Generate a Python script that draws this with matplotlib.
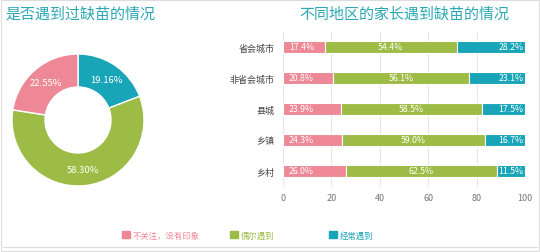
import matplotlib
matplotlib.use("Agg")
import matplotlib.pyplot as plt
from matplotlib.patches import Patch, Rectangle
import numpy as np

plt.rcParams["font.family"] = ["Noto Sans CJK SC", "DejaVu Sans"]

# donut data (clockwise from top)
pie_labels = ["经常遇到", "偶尔遇到", "不关注，没有印象"]
pie_values = [19.16, 58.30, 22.55]

# stacked bar data
regions = ["省会城市", "非省会城市", "县城", "乡镇", "乡村"]
not_care = [17.4, 20.8, 23.9, 24.3, 26.0]
sometimes = [54.4, 56.1, 58.5, 59.0, 62.5]
often = [28.2, 23.1, 17.5, 16.7, 11.5]
legend_labels = ["不关注，没有印象", "偶尔遇到", "经常遇到"]

PINK = "#EE8896"
GREEN = "#9DBC45"
TEAL = "#18A5B7"
TITLE = "#2AA8B4"

W, H = 540, 253
fig = plt.figure(figsize=(W / 100, H / 100), dpi=100)
fig.patches.append(Rectangle((0.002, 0.004), 0.996, 0.992, transform=fig.transFigure,
                             fill=False, edgecolor="#DDDDDD", linewidth=0.8))

fig.text(5 / W, 1 - 15 / H, "是否遇到过缺苗的情况", color=TITLE, fontsize=10.8,
         ha="left", va="center")
fig.text(404 / W, 1 - 15 / H, "不同地区的家长遇到缺苗的情况", color=TITLE, fontsize=10.8,
         ha="center", va="center")

# donut
cx, cy, r = 78, 121, 66
ax1 = fig.add_axes([(cx - r) / W, (H - cy - r) / H, 2 * r / W, 2 * r / H])
wedges, _, autotexts = ax1.pie(
    pie_values, colors=[TEAL, GREEN, PINK], startangle=90, counterclock=False,
    radius=1, autopct=lambda p: "", pctdistance=0.75,
    wedgeprops=dict(width=0.5, edgecolor="white", linewidth=1),
)
for t, v in zip(autotexts, pie_values):
    t.set_text(f"{v:.2f}%")
    t.set_color("white")
    t.set_fontsize(6.8)
ax1.set_xlim(-1, 1)
ax1.set_ylim(-1, 1)

# stacked bars
ax2 = fig.add_axes([283 / W, (H - 187.5) / H, 242 / W, 155 / H])
y = np.arange(len(regions))
h = 0.38
ax2.barh(y, not_care, height=h, color=PINK, edgecolor="white", linewidth=0.8)
ax2.barh(y, sometimes, left=not_care, height=h, color=GREEN, edgecolor="white", linewidth=0.8)
left3 = np.array(not_care) + np.array(sometimes)
ax2.barh(y, often, left=left3, height=h, color=TEAL, edgecolor="white", linewidth=0.8)

for i in range(len(regions)):
    ax2.text(2.5, y[i], f"{not_care[i]:.1f}%", color="white", fontsize=6.3,
             ha="left", va="center")
    ax2.text(not_care[i] + sometimes[i] / 2, y[i], f"{sometimes[i]:.1f}%", color="white",
             fontsize=6.3, ha="center", va="center")
    ax2.text(99.3, y[i], f"{often[i]:.1f}%", color="white", fontsize=6.3,
             ha="right", va="center")

ax2.set_xlim(0, 100)
ax2.set_ylim(len(regions) - 0.5, -0.5)
ax2.set_yticks(y)
ax2.set_yticklabels(regions, fontsize=6.5, color="#444444")
ax2.set_xticks([0, 20, 40, 60, 80, 100])
ax2.tick_params(axis="x", labelsize=6.5, labelcolor="#777777", length=0, pad=5)
ax2.tick_params(axis="y", length=0, pad=6)
ax2.grid(axis="x", color="#E6E6E6", linewidth=0.7)
ax2.set_axisbelow(True)
for s in ax2.spines.values():
    s.set_visible(False)

# legend: one entry per fixed slot
for label, c, x0 in zip(legend_labels, (PINK, GREEN, TEAL), (122, 230, 329)):
    leg = fig.legend([Patch(color=c)], [label], loc="center left",
                     bbox_to_anchor=(x0 / W, 1 - 236 / H), frameon=False, fontsize=6,
                     handlelength=0.9, handleheight=0.9, handletextpad=0.4,
                     borderpad=0, borderaxespad=0)
    leg.get_texts()[0].set_color(c)

fig.add_artist(plt.Line2D([0.005, 0.995], [1 - 248 / H, 1 - 248 / H],
                          transform=fig.transFigure, color="#DDDDDD", linewidth=0.8))

fig.savefig("out.png", dpi=100)
